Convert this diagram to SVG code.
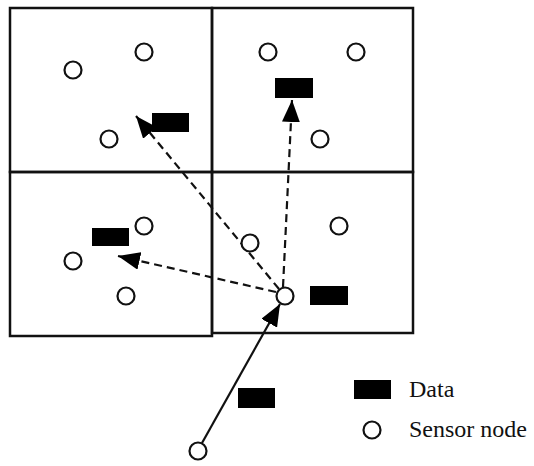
<svg xmlns="http://www.w3.org/2000/svg" width="534" height="466" viewBox="0 0 534 466">
<style>
.cell{fill:none;stroke:#111;stroke-width:2.5}
.sn{fill:#fff;stroke:#111;stroke-width:2.2}
.data{fill:#000}
.dash{fill:none;stroke:#111;stroke-width:2.2;stroke-dasharray:8 5}
.solid{fill:none;stroke:#111;stroke-width:2.2}
.lbl{font-family:"Liberation Serif","Times New Roman",serif;font-size:24px;fill:#111}
</style>
<defs>
<marker id="ah" viewBox="0 0 22 18" refX="22" refY="9" markerWidth="22" markerHeight="18" markerUnits="userSpaceOnUse" orient="auto">
<path d="M0,0 L22,9 L0,18 z" fill="#000"/>
</marker>
</defs>
<rect width="534" height="466" fill="#fff"/>
<g id="grid">
<rect id="cell-tl" class="cell" x="10" y="8" width="202" height="164"/>
<rect id="cell-tr" class="cell" x="212" y="8" width="201" height="164"/>
<rect id="cell-bl" class="cell" x="10" y="172" width="202" height="164"/>
<rect id="cell-br" class="cell" x="212" y="172" width="201" height="161"/>
</g>
<g id="connectors">
<line class="dash" x1="279" y1="289" x2="136" y2="116" marker-end="url(#ah)"/>
<line class="dash" x1="283" y1="287" x2="292" y2="100" marker-end="url(#ah)"/>
<line class="dash" x1="276" y1="292" x2="118" y2="256" marker-end="url(#ah)"/>
<line class="solid" x1="202" y1="443" x2="280" y2="304" marker-end="url(#ah)"/>
</g>
<g id="n1"><circle class="sn" cx="73" cy="70" r="8.5"/></g>
<g id="n2"><circle class="sn" cx="144" cy="52" r="8.5"/></g>
<g id="n3"><circle class="sn" cx="109" cy="139" r="8.5"/></g>
<g id="n4"><circle class="sn" cx="268" cy="52" r="8.5"/></g>
<g id="n5"><circle class="sn" cx="356" cy="52" r="8.5"/></g>
<g id="n6"><circle class="sn" cx="320" cy="139" r="8.5"/></g>
<g id="n7"><circle class="sn" cx="144" cy="226" r="8.5"/></g>
<g id="n8"><circle class="sn" cx="73" cy="261" r="8.5"/></g>
<g id="n9"><circle class="sn" cx="126" cy="296" r="8.5"/></g>
<g id="n10"><circle class="sn" cx="250" cy="243" r="8.5"/></g>
<g id="n11"><circle class="sn" cx="339" cy="226" r="8.5"/></g>
<g id="n-main"><circle class="sn" cx="285" cy="296" r="8.5"/></g>
<g id="n-src"><circle class="sn" cx="198" cy="451" r="8.5"/></g>
<g id="d1"><rect class="data" x="152" y="113" width="37" height="19"/></g>
<g id="d2"><rect class="data" x="275" y="78" width="38" height="20"/></g>
<g id="d3"><rect class="data" x="92" y="228" width="37" height="18"/></g>
<g id="d4"><rect class="data" x="310" y="286" width="38" height="19"/></g>
<g id="d5"><rect class="data" x="238" y="388" width="37" height="20"/></g>
<g id="legend">
<rect class="data" x="354" y="380" width="37" height="19"/>
<text class="lbl" x="409" y="397">Data</text>
<circle class="sn" cx="372" cy="430" r="8.5"/>
<text class="lbl" x="409" y="437">Sensor node</text>
</g>
</svg>
